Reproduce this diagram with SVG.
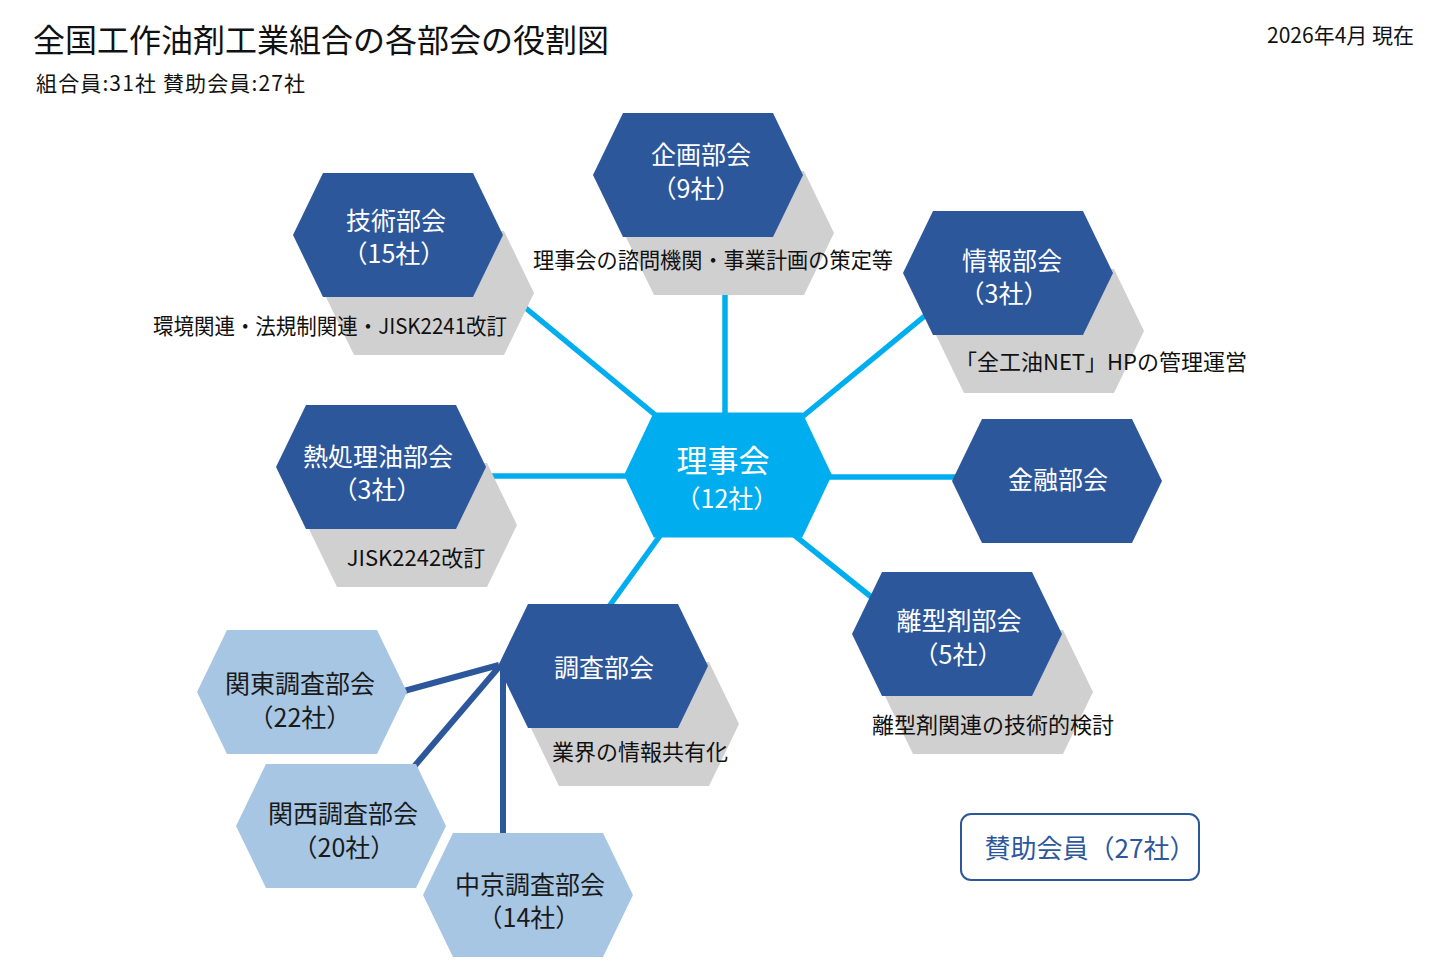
<svg xmlns="http://www.w3.org/2000/svg" xmlns:xlink="http://www.w3.org/1999/xlink" width="1432" height="976" viewBox="0 0 1432 976">
<defs>
<path id="hex" d="M-105,0 L-75,-62 L75,-62 L105,0 L75,62 L-75,62 Z"/>
</defs>
<style>
text{font-family:"Noto Sans CJK JP","Noto Sans",sans-serif;dominant-baseline:central}
.dk{fill:#2D579B}
.gr{fill:#D1D0D0}
.lb{fill:#A6C6E4}
.cy{fill:#00AEEF}
.w{fill:#fff;font-size:25px;text-anchor:middle}
.wl{fill:#fff;font-size:31px;text-anchor:middle}
.d{fill:#111;font-size:22px;text-anchor:middle}
.k{fill:#1a1a1a;font-size:25px;text-anchor:middle}
.c1{stroke:#00AEEF;stroke-width:5.5;fill:none}
.c2{stroke:#2D579B;stroke-width:6;fill:none}
</style>
<rect width="1432" height="976" fill="#fff"/>

<g id="header">
<text x="33" y="38" font-size="32" fill="#111">全国工作油剤工業組合の各部会の役割図</text>
<text x="36" y="82" font-size="21" fill="#111" textLength="269" lengthAdjust="spacing">組合員:31社 賛助会員:27社</text>
<text x="1414" y="34" font-size="21" fill="#111" text-anchor="end">2026年4月 現在</text>
</g>

<g id="connectors">
<line class="c1" x1="725" y1="240" x2="725" y2="475"/>
<line class="c1" x1="522" y1="305" x2="728" y2="475"/>
<line class="c1" x1="932" y1="310" x2="728" y2="478"/>
<line class="c1" x1="728" y1="477" x2="960" y2="477"/>
<line class="c1" x1="480" y1="476" x2="728" y2="476"/>
<line class="c1" x1="728" y1="482" x2="880" y2="604"/>
<line class="c1" x1="662" y1="533" x2="605" y2="612"/>
<line class="c2" x1="499" y1="665" x2="404" y2="691"/>
<line class="c2" x1="499" y1="667" x2="412" y2="769"/>
<line class="c2" x1="503" y1="668" x2="503" y2="836"/>
</g>

<g id="rijikai">
<use xlink:href="#hex" class="cy" transform="translate(728,475) scale(0.99,1.01)"/>
<text class="wl" x="723" y="458">理事会</text>
<text class="w" x="727" y="497">（12社）</text>
</g>

<g id="kikaku">
<use xlink:href="#hex" class="gr" transform="translate(729,233)"/>
<use xlink:href="#hex" class="dk" transform="translate(698,175)"/>
<text class="w" x="701" y="153">企画部会</text>
<text class="w" x="696" y="187">（9社）</text>
<text class="d" x="713" y="258" textLength="360" lengthAdjust="spacingAndGlyphs">理事会の諮問機関・事業計画の策定等</text>
</g>

<g id="gijutsu">
<use xlink:href="#hex" class="gr" transform="translate(429,293)"/>
<use xlink:href="#hex" class="dk" transform="translate(398,235)"/>
<text class="w" x="396" y="219">技術部会</text>
<text class="w" x="394" y="252">（15社）</text>
<text class="d" x="330" y="324" textLength="354" lengthAdjust="spacingAndGlyphs">環境関連・法規制関連・JISK2241改訂</text>
</g>

<g id="joho">
<use xlink:href="#hex" class="gr" transform="translate(1039,331)"/>
<use xlink:href="#hex" class="dk" transform="translate(1008,273)"/>
<text class="w" x="1012" y="259">情報部会</text>
<text class="w" x="1004" y="292">（3社）</text>
<text class="d" x="1101" y="360">「全工油NET」HPの管理運営</text>
</g>

<g id="netsushori">
<use xlink:href="#hex" class="gr" transform="translate(412,525)"/>
<use xlink:href="#hex" class="dk" transform="translate(381,467)"/>
<text class="w" x="378" y="455">熱処理油部会</text>
<text class="w" x="377" y="488">（3社）</text>
<text class="d" x="416" y="556">JISK2242改訂</text>
</g>

<g id="kinyu">
<use xlink:href="#hex" class="dk" transform="translate(1057,481)"/>
<text class="w" x="1058" y="478">金融部会</text>
</g>

<g id="rikeizai">
<use xlink:href="#hex" class="gr" transform="translate(988,692)"/>
<use xlink:href="#hex" class="dk" transform="translate(957,634)"/>
<text class="w" x="959" y="619">離型剤部会</text>
<text class="w" x="958" y="653">（5社）</text>
<text class="d" x="993" y="723">離型剤関連の技術的検討</text>
</g>

<g id="chosa">
<use xlink:href="#hex" class="gr" transform="translate(634,724)"/>
<use xlink:href="#hex" class="dk" transform="translate(603,666)"/>
<text class="w" x="604" y="666">調査部会</text>
<text class="d" x="640" y="750">業界の情報共有化</text>
</g>

<g id="kanto">
<use xlink:href="#hex" class="lb" transform="translate(302,692)"/>
<text class="k" x="300" y="682">関東調査部会</text>
<text class="k" x="300" y="716">（22社）</text>
</g>

<g id="kansai">
<use xlink:href="#hex" class="lb" transform="translate(341,826)"/>
<text class="k" x="343" y="812">関西調査部会</text>
<text class="k" x="344" y="846">（20社）</text>
</g>

<g id="chukyo">
<use xlink:href="#hex" class="lb" transform="translate(528,895)"/>
<text class="k" x="530" y="883">中京調査部会</text>
<text class="k" x="529" y="916">（14社）</text>
</g>

<g id="sanjo">
<rect x="961" y="814" width="238" height="66" rx="10" fill="#fff" stroke="#2D579B" stroke-width="2"/>
<text x="1090" y="846" font-size="26" fill="#2D579B" text-anchor="middle">賛助会員（27社）</text>
</g>
</svg>
